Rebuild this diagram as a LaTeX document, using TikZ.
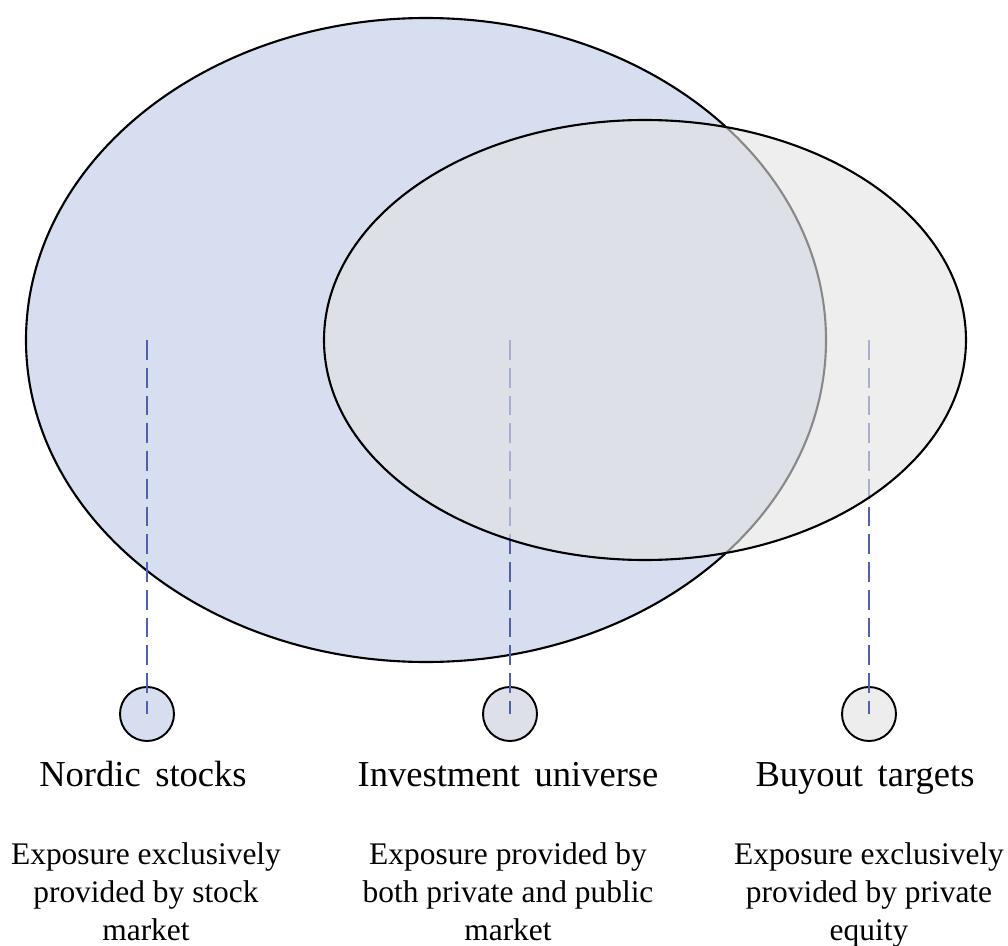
\documentclass[tikz,border=0pt]{standalone}
\usepackage{fontspec}
\setmainfont{Liberation Serif}
\definecolor{stockblue}{RGB}{214,222,239}
\definecolor{bothgray}{RGB}{221,224,232}
\definecolor{buyoutgray}{RGB}{237,237,237}
\definecolor{overlaygray}{RGB}{227,227,227}
\definecolor{guideblue}{RGB}{80,96,176}
\tikzset{
	setline/.style={line width=1.2pt, draw=black},
	marker/.style={circle, minimum size=1.08cm, inner sep=0pt, line width=1.1pt, draw=black},
	guide/.style={draw=guideblue, line width=0.85pt, dash pattern=on 11.3pt off 4.5pt},
	title/.style={font=\fontsize{20.8}{24}\selectfont, anchor=base},
	note/.style={font=\fontsize{17.9}{21.6}\selectfont, align=center, anchor=base, inner sep=0pt}
}
\begin{document}
\begin{tikzpicture}[x=0.02cm, y=-0.02cm, line join=round]
	
	\useasboundingbox (0,0) rectangle (1008,946);
	
	\path
		(426,340) coordinate (S)
		(645,340) coordinate (B)
		(147,340) coordinate (top_s)
		(510,340) coordinate (top_i)
		(869,340) coordinate (top_b)
	;
	
	% Nordic stocks set
	\draw[setline, fill=stockblue] (S) ellipse [x radius=400, y radius=322];
	
	\node[marker, fill=stockblue] (c_s) at (147,714) {};
	\node[marker, fill=bothgray] (c_i) at (510,714) {};
	\node[marker, fill=buyoutgray] (c_b) at (869,714) {};
	
	\foreach \i in {s, i, b}{
		\draw[guide] (top_\i) -- (c_\i.center);
	}
	
	% buyout targets set
	\fill[overlaygray, fill opacity=0.6] (B) ellipse [x radius=321, y radius=220];
	\draw[setline] (B) ellipse [x radius=321, y radius=220];
	
	\node[title] (t_s) at (143,786) {Nordic\hspace{0.15em} stocks};
	\node[title] (t_i) at (508,786) {Investment\hspace{0.15em} universe};
	\node[title] (t_b) at (865,786) {Buyout\hspace{0.15em} targets};
	
	% base of a multi-line note is its last line
	\node[note] (n_s) at (146,940) {Exposure exclusively\\provided by stock\\market};
	\node[note] (n_i) at (508,940) {Exposure provided by\\both private and public\\market};
	\node[note] (n_b) at (869,940) {Exposure exclusively\\provided by private\\equity};
\end{tikzpicture}
\end{document}
